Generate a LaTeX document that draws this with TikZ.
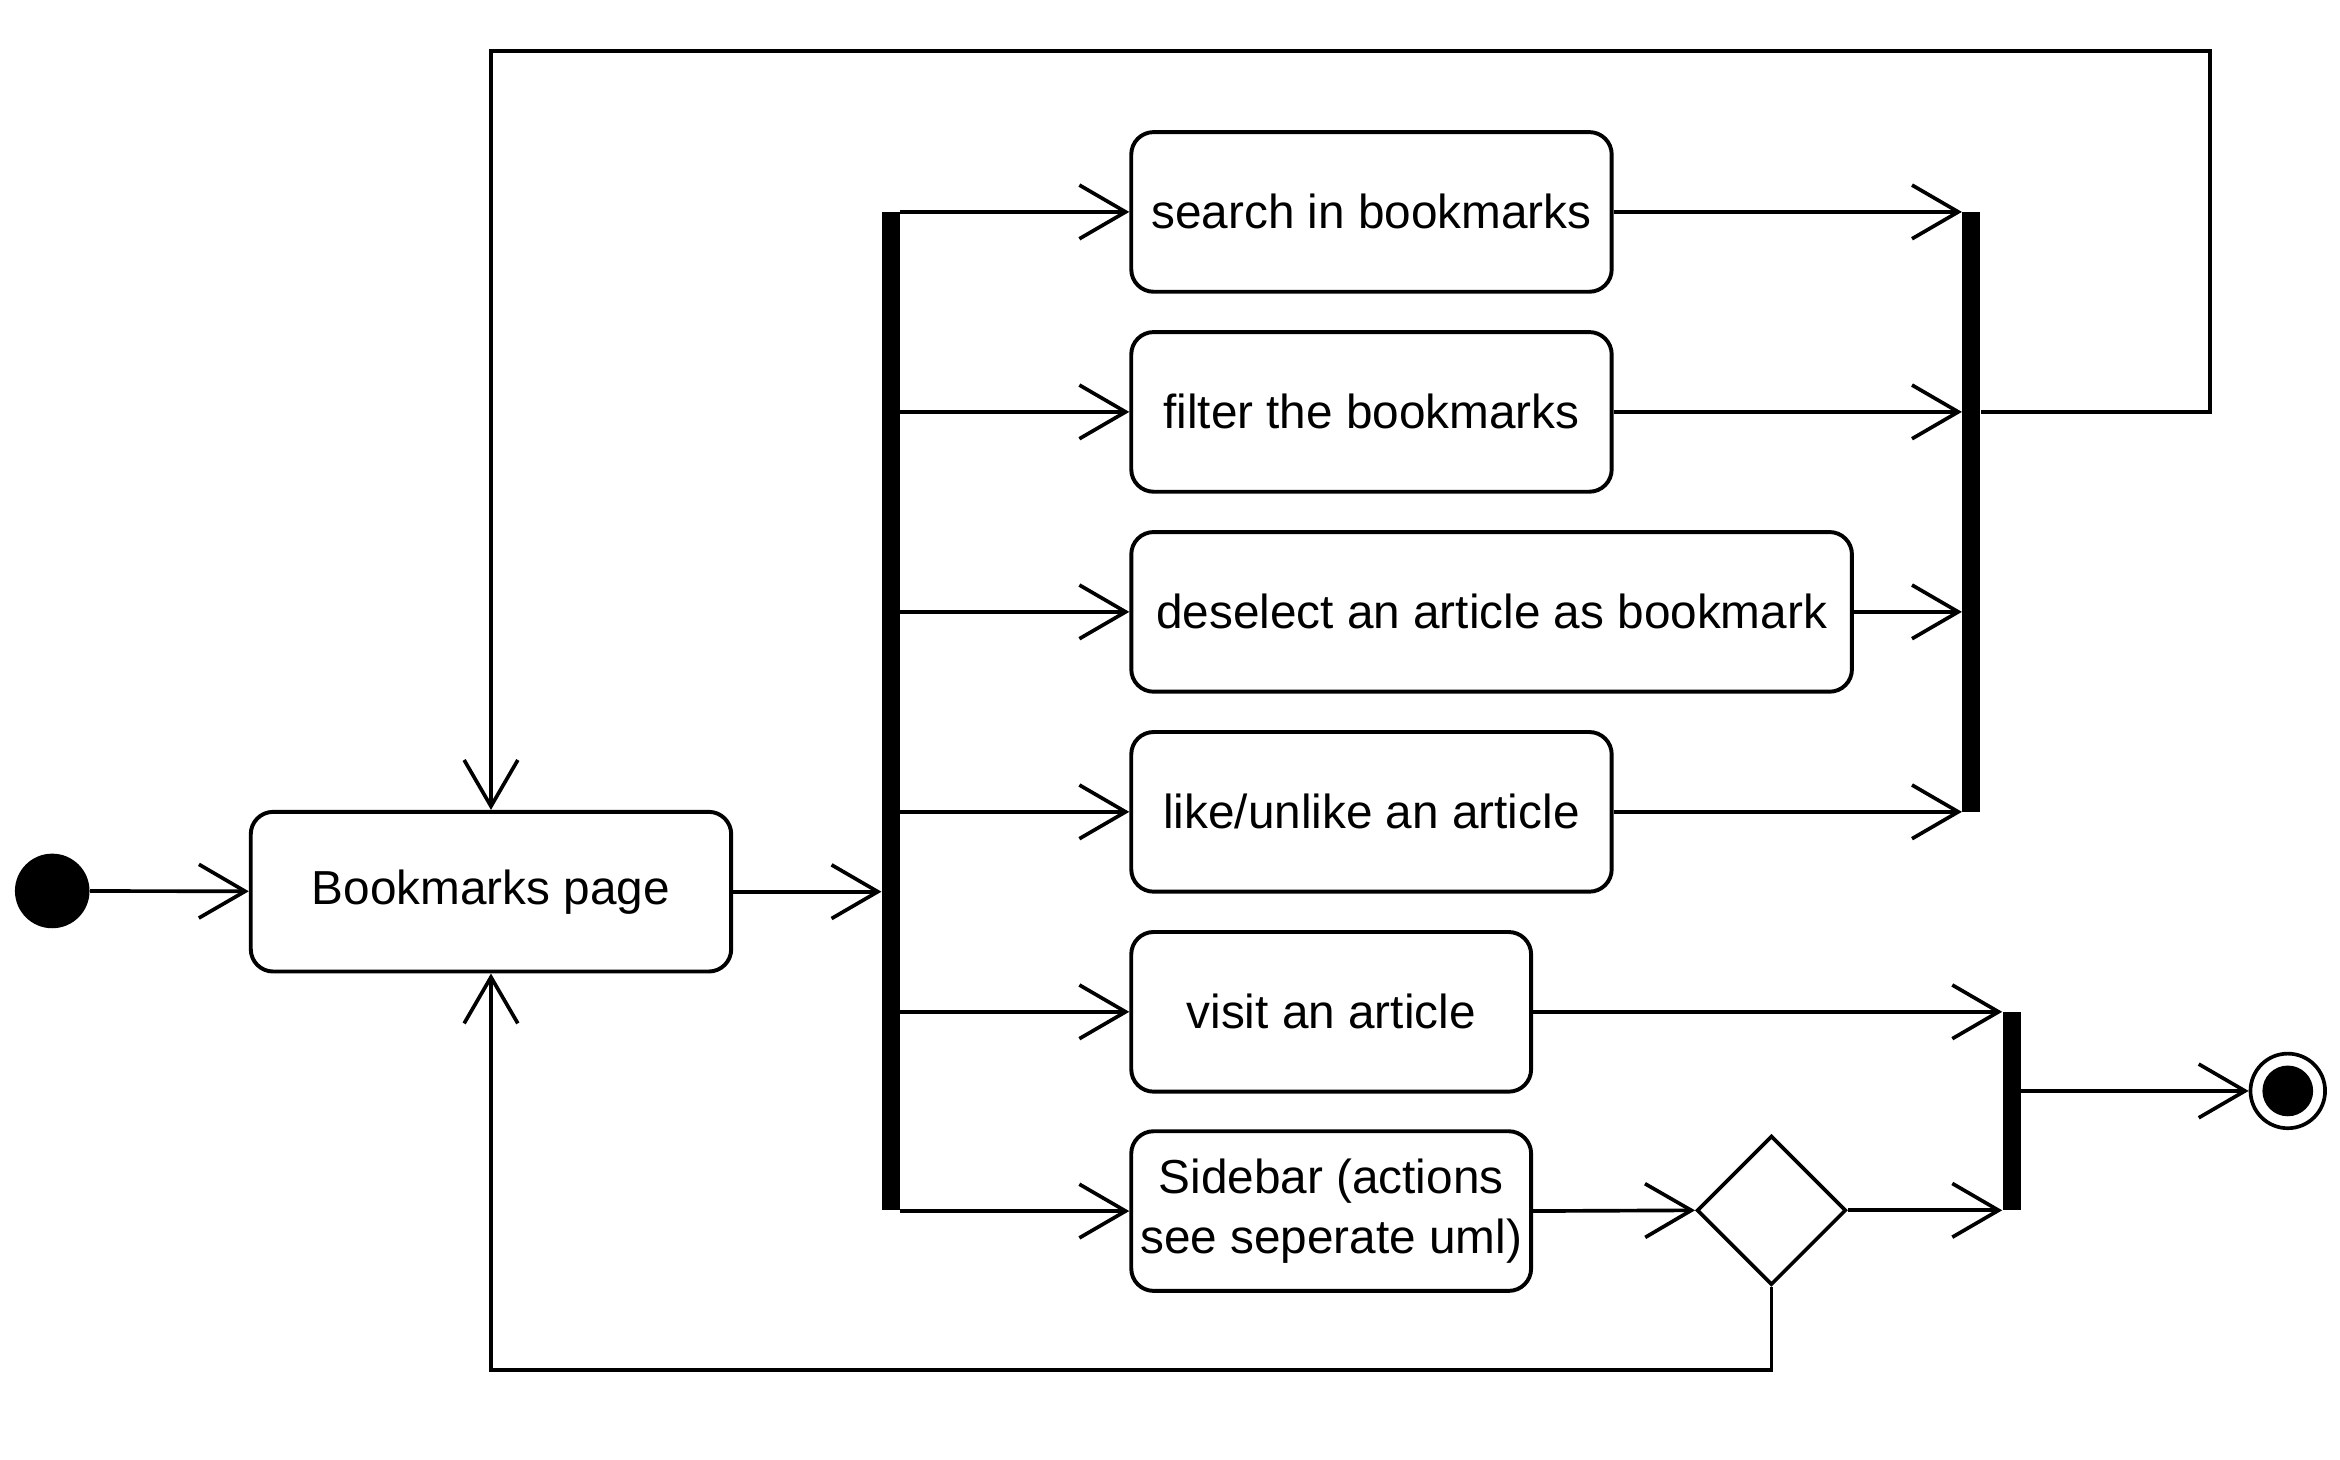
\documentclass[tikz,border=0pt]{standalone}
\usepackage{fontspec}
\setmainfont{Liberation Sans}
\usepackage{tikz}
\usetikzlibrary{shapes,arrows,positioning,calc,arrows.meta}

\tikzset{
  action/.style={draw, line width=1.5pt, rounded corners=0.3cm, minimum height=2.14cm,
    align=center, inner sep=2pt, font=\fontsize{18.2}{22.8}\selectfont},
  syncbar/.style={fill=black, minimum width=0.24cm, inner sep=0pt},
  flow/.style={line width=1.4pt, -{Straight Barb[length=0.62cm, width=0.72cm]}},
  plain/.style={line width=1.4pt}
}

\begin{document}
\begin{tikzpicture}[x=0.02cm, y=-0.02cm]
            \useasboundingbox (0,0) rectangle (1568,978);

            % Start and page
            \node[circle, fill=black, minimum size=1cm, inner sep=0pt] (init) at (35,597) {};
            \node[action, minimum width=6.44cm] (page) at (329,597.5) {Bookmarks page};

            % Fork and actions
            \node[syncbar, minimum height=13.38cm] (fork) at (597,476.5) {};
            \node[action, minimum width=6.44cm] (s1) at (919,142) {search in bookmarks};
            \node[action, minimum width=6.44cm] (s2) at (919,276) {filter the bookmarks};
            \node[action, minimum width=9.66cm] (s3) at (999.5,410) {deselect an article as bookmark};
            \node[action, minimum width=6.44cm] (s4) at (919,544) {like/unlike an article};
            \node[action, minimum width=5.36cm] (s5) at (892,678) {visit an article};
            \node[action, minimum width=5.36cm] (s6) at (892,811.5) {Sidebar (actions\\see seperate uml)};

            % Joins, decision, end
            \node[syncbar, minimum height=8.04cm] (join1) at (1321,343) {};
            \node[syncbar, minimum height=2.66cm] (join2) at (1348,744.5) {};
            \node[diamond, draw, line width=1.4pt, minimum width=2cm, minimum height=2cm, inner sep=0pt] (dec) at (1187,811) {};
            \node[circle, draw, line width=1.4pt, minimum size=1cm, inner sep=0pt] (final) at (1533,731) {};
            \fill (final.center) circle (0.34cm);

            \coordinate (loopR) at (1481,34);
            \coordinate (loopB) at (329,918);

            % Connectors
            \draw[flow] (init) -- (page);
            \draw[flow] (page.east) -- (page.east -| fork.west);
            \foreach \n in {s1,s2,s3,s4,s5,s6}
                \draw[flow] (fork.east |- \n.west) -- (\n.west);
            \foreach \n in {s1,s2,s3,s4}
                \draw[flow] (\n.east) -- (\n.east -| join1.west);
            \draw[flow] (s5.east) -- (s5.east -| join2.west);
            \draw[flow] (s6.east) -- (dec.west);
            \draw[flow] (dec.east) -- (dec.east -| join2.west);
            \draw[flow] (join2.east |- final.west) -- (final.west);
            \draw[flow] (join1.east |- s2.east) -| (loopR) -| (page.north);
            \draw[flow] (dec.south) |- (loopB) -- (page.south);
\end{tikzpicture}
\end{document}
